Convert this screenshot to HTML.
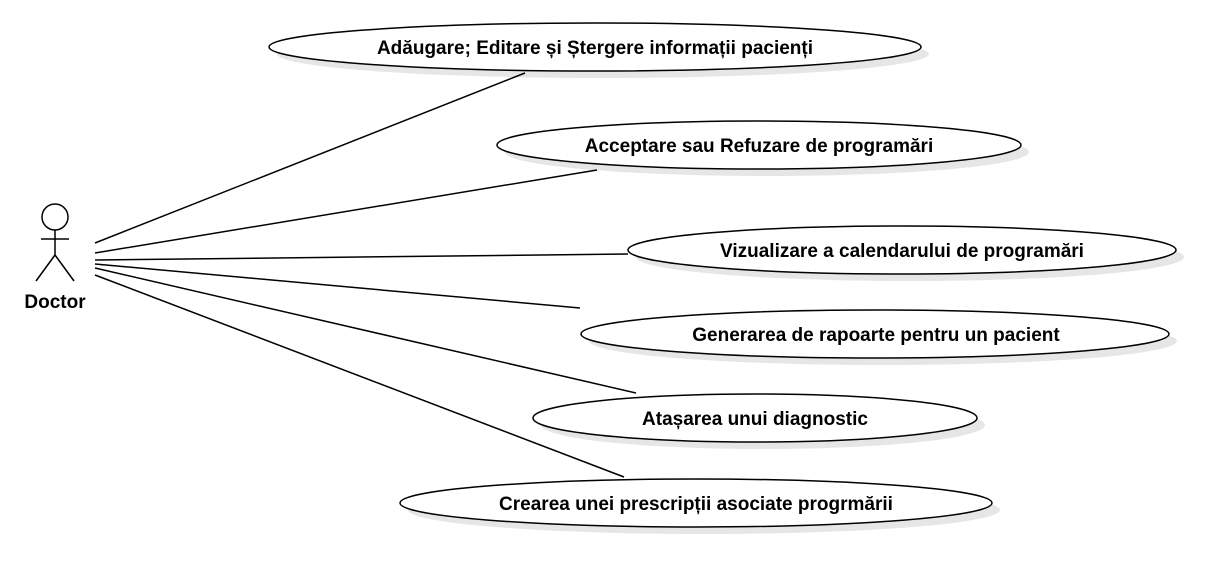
<!DOCTYPE html>
<html><head><meta charset="utf-8"><style>
html,body{margin:0;padding:0;background:#fff;}
svg{display:block;}
text{font-family:"Liberation Sans",sans-serif;font-weight:bold;font-size:19px;fill:#000;}
</style></head><body>
<svg width="1229" height="563" viewBox="0 0 1229 563" xmlns="http://www.w3.org/2000/svg">
<g fill="#e6e6e6" stroke="none">
<ellipse cx="603" cy="54" rx="326" ry="24"/>
<ellipse cx="767" cy="152" rx="262" ry="24"/>
<ellipse cx="910" cy="257" rx="274" ry="24"/>
<ellipse cx="883" cy="341" rx="294" ry="24"/>
<ellipse cx="763" cy="425" rx="222" ry="24"/>
<ellipse cx="704" cy="510" rx="296" ry="24"/>
</g>
<g stroke="#000" stroke-width="1.5" fill="none">
<line x1="95" y1="243" x2="525" y2="73"/>
<line x1="95" y1="253" x2="597" y2="170"/>
<line x1="95" y1="260" x2="628" y2="254"/>
<line x1="95" y1="264" x2="580" y2="308"/>
<line x1="95" y1="268" x2="636" y2="393"/>
<line x1="95" y1="275" x2="624" y2="477"/>
<circle cx="55" cy="217" r="13"/>
<line x1="55" y1="230" x2="55" y2="255"/>
<line x1="41" y1="239" x2="69" y2="239"/>
<line x1="55" y1="255" x2="36" y2="281"/>
<line x1="55" y1="255" x2="74" y2="281"/>
</g>
<g fill="#fff" stroke="#000" stroke-width="1.5">
<ellipse cx="595" cy="47" rx="326" ry="24"/>
<ellipse cx="759" cy="145" rx="262" ry="24"/>
<ellipse cx="902" cy="250" rx="274" ry="24"/>
<ellipse cx="875" cy="334" rx="294" ry="24"/>
<ellipse cx="755" cy="418" rx="222" ry="24"/>
<ellipse cx="696" cy="503" rx="296" ry="24"/>
</g>
<g text-anchor="middle">
<text x="595" y="54">Adăugare; Editare și Ștergere informații pacienți</text>
<text x="759" y="152">Acceptare sau Refuzare de programări</text>
<text x="902" y="257">Vizualizare a calendarului de programări</text>
<text x="876" y="341">Generarea de rapoarte pentru un pacient</text>
<text x="755" y="425">Atașarea unui diagnostic</text>
<text x="696" y="510">Crearea unei prescripții asociate progrmării</text>
<text x="55" y="308">Doctor</text>
</g>
</svg>
</body></html>
